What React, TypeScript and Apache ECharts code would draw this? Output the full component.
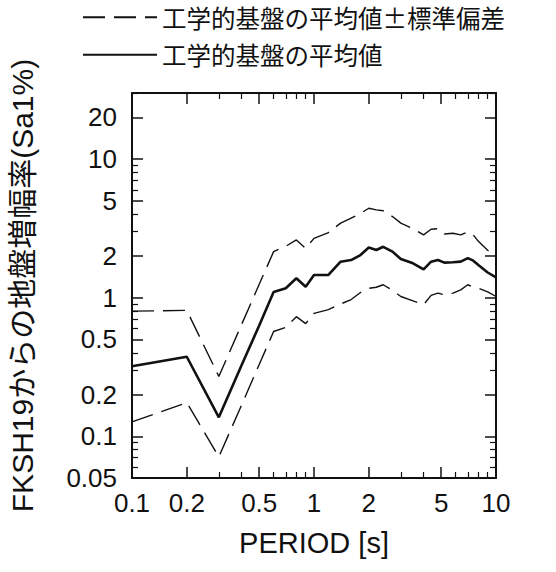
import React, { useEffect, useRef } from "react";
import * as echarts from "echarts";

// Period [s]
const periods = [0.1, 0.2, 0.3, 0.4, 0.5, 0.6, 0.7, 0.8, 0.9, 1.0, 1.2, 1.4, 1.6, 1.8, 2.0, 2.2, 2.4, 2.7, 3.0, 3.5, 4.0, 4.4, 4.8, 5.2, 5.8, 6.4, 7.0, 7.5, 8.0, 9.0, 10.0];
// 工学的基盤の平均値
const meanValues = [0.32, 0.375, 0.137, 0.325, 0.63, 1.10, 1.17, 1.38, 1.20, 1.46, 1.46, 1.82, 1.87, 2.03, 2.30, 2.21, 2.33, 2.15, 1.90, 1.77, 1.60, 1.82, 1.87, 1.79, 1.80, 1.82, 1.93, 1.85, 1.72, 1.52, 1.40];
// 平均値 + 標準偏差
const upperValues = [0.80, 0.81, 0.27, 0.64, 1.25, 2.15, 2.35, 2.61, 2.27, 2.68, 2.95, 3.45, 3.75, 4.06, 4.42, 4.30, 4.24, 3.85, 3.45, 3.15, 2.84, 3.12, 3.15, 2.88, 2.92, 2.84, 2.99, 2.84, 2.55, 2.20, 1.95];
// 平均値 - 標準偏差
const lowerValues = [0.127, 0.175, 0.071, 0.168, 0.33, 0.57, 0.61, 0.73, 0.65, 0.77, 0.82, 0.90, 0.97, 1.09, 1.17, 1.19, 1.24, 1.13, 1.02, 0.95, 0.89, 1.04, 1.08, 1.05, 1.08, 1.14, 1.24, 1.19, 1.17, 1.10, 1.02];

const xLabelValues = [0.1, 0.2, 0.5, 1, 2, 5, 10];
const xMinorTicks = [0.3, 0.4, 0.6, 0.7, 0.8, 0.9, 3, 4, 6, 7, 8, 9];
const yLabelValues = [0.05, 0.1, 0.2, 0.5, 1, 2, 5, 10, 20];
const yMinorTicks = [0.06, 0.07, 0.08, 0.09, 0.3, 0.4, 0.6, 0.7, 0.8, 0.9, 3, 4, 6, 7, 8, 9, 30];

const nameBand = "工学的基盤の平均値±標準偏差";
const nameMean = "工学的基盤の平均値";
const xName = "PERIOD [s]";
const yName = "FKSH19からの地盤増幅率(Sa1%)";

const FONT = "'Liberation Sans', Arial, 'Noto Sans CJK JP', sans-serif";
const CJK_FONT = "'Noto Sans CJK JP', sans-serif";
const INK = "#111";

export default function App() {
  const ref = useRef<HTMLDivElement>(null);

  useEffect(() => {
    if (!ref.current) return;
    const chart = echarts.init(ref.current, null, { renderer: "svg" });

    const pairs = (vals: number[]) => periods.map((p, i) => [p, vals[i]]);
    const fmt = (v: number) => String(Number(Number(v).toPrecision(3)));

    const xBase = { type: "log", logBase: 10, min: 0.1, max: 10, gridIndex: 0, splitLine: { show: false } };
    const yBase = { type: "log", logBase: 10, min: 0.05, max: 30, gridIndex: 0, splitLine: { show: false } };
    const axisLine = { show: true, onZero: false, lineStyle: { color: INK, width: 2 } };
    const noLine = { show: false, onZero: false };

    const option: any = {
      animation: false,
      backgroundColor: "#fff",
      grid: { left: 132, right: 60, top: 93, bottom: 94, containLabel: false, outerBoundsMode: "none" },
      legend: {
        orient: "vertical",
        left: 82,
        top: 5,
        padding: 0,
        itemWidth: 74,
        itemHeight: 20,
        itemGap: 13,
        data: [nameBand, nameMean],
        itemStyle: { opacity: 0 },
        textStyle: { fontSize: 24.5, lineHeight: 24, fontFamily: CJK_FONT, color: INK },
      },
      xAxis: [
        {
          ...xBase,
          position: "bottom",
          name: xName,
          nameLocation: "middle",
          nameGap: 50,
          nameTextStyle: { fontSize: 29, fontFamily: FONT, color: INK },
          axisLine,
          axisTick: { show: true, inside: true, length: 11, customValues: xLabelValues, lineStyle: { color: INK, width: 1.5 } },
          axisLabel: { show: true, customValues: xLabelValues, fontSize: 26, fontFamily: FONT, color: INK, margin: 12, formatter: fmt },
        },
        {
          ...xBase,
          position: "bottom",
          axisLine: noLine,
          axisTick: { show: true, inside: true, length: 6, customValues: xMinorTicks, lineStyle: { color: INK, width: 1.2 } },
          axisLabel: { show: false },
        },
        {
          ...xBase,
          position: "top",
          axisLine,
          axisTick: { show: true, inside: true, length: 11, customValues: xLabelValues, lineStyle: { color: INK, width: 1.5 } },
          axisLabel: { show: false },
        },
        {
          ...xBase,
          position: "top",
          axisLine: noLine,
          axisTick: { show: true, inside: true, length: 6, customValues: xMinorTicks, lineStyle: { color: INK, width: 1.2 } },
          axisLabel: { show: false },
        },
      ],
      yAxis: [
        {
          ...yBase,
          position: "left",
          name: yName,
          nameLocation: "middle",
          nameGap: 95,
          nameTextStyle: { fontSize: 30, fontFamily: FONT, color: INK },
          axisLine,
          axisTick: { show: true, inside: true, length: 11, customValues: yLabelValues, lineStyle: { color: INK, width: 1.5 } },
          axisLabel: { show: true, customValues: yLabelValues, fontSize: 26, fontFamily: FONT, color: INK, margin: 15, formatter: fmt },
        },
        {
          ...yBase,
          position: "left",
          axisLine: noLine,
          axisTick: { show: true, inside: true, length: 6, customValues: yMinorTicks, lineStyle: { color: INK, width: 1.2 } },
          axisLabel: { show: false },
        },
        {
          ...yBase,
          position: "right",
          axisLine,
          axisTick: { show: true, inside: true, length: 11, customValues: yLabelValues, lineStyle: { color: INK, width: 1.5 } },
          axisLabel: { show: false },
        },
        {
          ...yBase,
          position: "right",
          axisLine: noLine,
          axisTick: { show: true, inside: true, length: 6, customValues: yMinorTicks, lineStyle: { color: INK, width: 1.2 } },
          axisLabel: { show: false },
        },
      ],
      series: [
        {
          name: nameBand,
          type: "line",
          xAxisIndex: 0,
          yAxisIndex: 0,
          data: pairs(upperValues),
          symbol: "none",
          lineStyle: { color: INK, width: 1.4, type: [22, 9] },
          itemStyle: { color: INK },
        },
        {
          name: nameBand,
          type: "line",
          xAxisIndex: 0,
          yAxisIndex: 0,
          data: pairs(lowerValues),
          symbol: "none",
          lineStyle: { color: INK, width: 1.4, type: [22, 9] },
          itemStyle: { color: INK },
        },
        {
          name: nameMean,
          type: "line",
          xAxisIndex: 0,
          yAxisIndex: 0,
          data: pairs(meanValues),
          symbol: "none",
          lineStyle: { color: INK, width: 2.6 },
          itemStyle: { color: INK },
        },
      ],
    };

    chart.setOption(option);
    return () => chart.dispose();
  }, []);

  return (
    <div
      ref={ref}
      style={{ position: "fixed", left: 0, top: 0, width: 556, height: 572, background: "#fff" }}
    />
  );
}
